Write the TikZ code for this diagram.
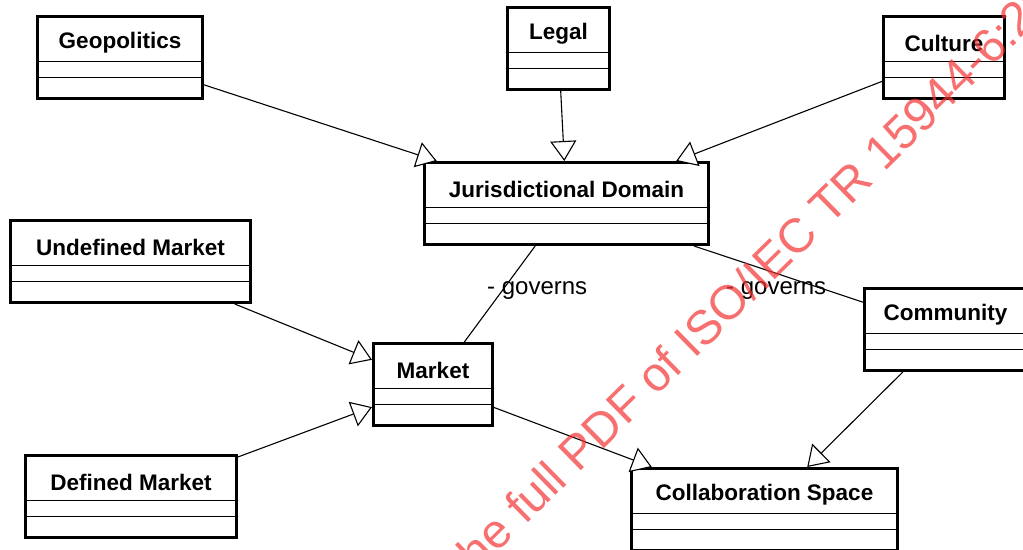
\documentclass[tikz,border=0pt]{standalone}
\usepackage{fontspec}
\setmainfont{Liberation Sans}
\usetikzlibrary{arrows.meta}
\definecolor{wmred}{RGB}{245,50,50}
\tikzset{
  cls/.style={draw=black, line width=3pt, fill=white, rectangle, inner sep=0pt, minimum height=82pt},
  clsname/.style={font=\bfseries\fontsize{22.5}{27}\selectfont, inner sep=0pt},
  sepline/.style={draw=black, line width=1.5pt},
  gen/.style={draw=black, line width=1.1pt, -{Triangle[length=20pt, width=26pt, fill=white, line width=1.1pt]}},
  assoc/.style={draw=black, line width=1.1pt},
  rolelabel/.style={font=\fontsize{24}{27}\selectfont, inner sep=0pt, anchor=base west},
  watermark/.style={font=\fontsize{48}{52}\selectfont, text=wmred, text opacity=0.7, inner sep=0pt, anchor=base west, rotate=44.5}
}
\newcommand{\umlclass}[5]{% name, cx, top, width, text
  \node[cls, minimum width=#4 pt] (#1) at (#2,#3+42.5) {};
  \node[clsname] (#1-n) at (#2,#3+28) {#5};
  \draw[sepline] ([yshift=-46.5pt]#1.north west) -- ([yshift=-46.5pt]#1.north east);
  \draw[sepline] ([yshift=-62.5pt]#1.north west) -- ([yshift=-62.5pt]#1.north east);
}
\begin{document}
\begin{tikzpicture}[x=1pt,y=-1pt]
\useasboundingbox (0,0) rectangle (1023,549);
\clip (0,0) rectangle (1023,549);
\fill[white] (0,0) rectangle (1023,549);

\umlclass{geo}{120}{15}{165}{Geopolitics}
\umlclass{legal}{558.5}{6}{102}{Legal}
\umlclass{cult}{944}{15}{121}{Culture}
\umlclass{jd}{566.5}{161}{284}{Jurisdictional Domain}
\umlclass{um}{130.5}{219}{240}{Undefined Market}
\umlclass{mk}{433}{342}{119}{Market}
\umlclass{dm}{131}{454}{211}{Defined Market}
\umlclass{com}{945.5}{287}{162}{Community}
\umlclass{cs}{764.5}{467}{266}{Collaboration Space}

\draw[gen] (geo) -- (jd);
\draw[gen] (legal) -- (jd);
\draw[gen] (cult) -- (jd);
\draw[gen] (um) -- (mk);
\draw[gen] (dm) -- (mk);
\draw[gen] (mk) -- (cs);
\draw[gen] (com) -- (cs);
\draw[assoc] (jd) -- (mk);
\draw[assoc] (jd) -- (com);

\node[rolelabel] (lab1) at (487,294) {- governs};
\node[rolelabel] (lab2) at (726,294) {- governs};

\node[watermark] (wm) at (468,582) {the full PDF of ISO/IEC TR 15944-6:2015};
\end{tikzpicture}
\end{document}
